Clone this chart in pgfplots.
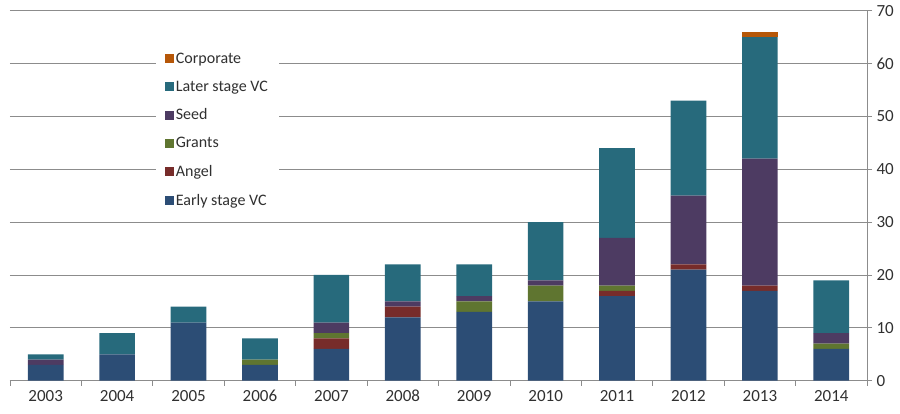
\documentclass[border=0pt]{standalone}
\usepackage{pgfplots}
\pgfplotsset{compat=1.18}
\usepackage{pgfplotstable}
\usepackage{fontspec}
\setmainfont{Carlito}
\definecolor{cEarly}{HTML}{2C4D75}
\definecolor{cAngel}{HTML}{772C2A}
\definecolor{cGrants}{HTML}{5F7530}
\definecolor{cSeed}{HTML}{4D3B62}
\definecolor{cLater}{HTML}{276A7C}
\definecolor{cCorp}{HTML}{B65708}
\definecolor{cGrid}{HTML}{8C8C8C}
\definecolor{cText}{HTML}{303030}

\pgfplotstableread{
x early angel grants seed later corp
0 3 0 0 1 1 0
1 5 0 0 0 4 0
2 11 0 0 0 3 0
3 3 0 1 0 4 0
4 6 2 1 2 9 0
5 12 2 0 1 7 0
6 13 0 2 1 6 0
7 15 0 3 1 11 0
8 16 1 1 9 17 0
9 21 1 0 13 18 0
10 17 1 0 24 23 1
11 6 0 1 2 10 0
}\data

\begin{document}
\begin{tikzpicture}
\begin{axis}[
  scale only axis, width=857pt, height=370pt,
  ybar stacked, bar width=0.5,
  xmin=-0.5, xmax=11.5, ymin=0, ymax=70,
  axis x line*=bottom, axis y line*=right,
  axis line style={cGrid, line width=0.8pt},
  xtick={0,...,11},
  xticklabels={2003,2004,2005,2006,2007,2008,2009,2010,2011,2012,2013,2014},
  major x tick style={draw=none},
  minor xtick={-0.5,0.5,...,11.5},
  minor x tick style={cGrid, line width=0.8pt},
  minor tick length=5pt,
  ytick={0,10,...,70},
  y tick style={cGrid, line width=0.8pt},
  major tick length=5pt,
  tick align=outside,
  ymajorgrids,
  grid style={cGrid, line width=0.8pt},
  ticklabel style={font=\fontsize{17}{20}\selectfont, text=cText},
  /pgf/number format/assume math mode=true,
  yticklabel style={xshift=1pt},
  xticklabel style={yshift=-1pt},
  reverse legend,
  legend cell align=left,
  legend image code/.code={\fill[#1] (0pt,-4.5pt) rectangle (9pt,4.5pt);},
  legend style={at={(0.170,0.905)}, anchor=north west, draw=none, fill=white,
    font=\fontsize{16}{18}\selectfont, text=cText, row sep=12pt,
    inner xsep=9pt, inner ysep=5pt},
]
\addplot[fill=cEarly, draw=none] table[x=x, y=early] {\data};
\addplot[fill=cAngel, draw=none] table[x=x, y=angel] {\data};
\addplot[fill=cGrants, draw=none] table[x=x, y=grants] {\data};
\addplot[fill=cSeed, draw=none] table[x=x, y=seed] {\data};
\addplot[fill=cLater, draw=none] table[x=x, y=later] {\data};
\addplot[fill=cCorp, draw=none] table[x=x, y=corp] {\data};
\legend{Early stage VC, Angel, Grants, Seed, Later stage VC, Corporate}
\coordinate (sw) at (rel axis cs:0,0);
\coordinate (ne) at (rel axis cs:1,1);
\end{axis}
\pgfresetboundingbox
\path ([xshift=-10pt,yshift=-33.3pt]sw) rectangle ([xshift=33pt,yshift=10.7pt]ne);
\end{tikzpicture}
\end{document}
